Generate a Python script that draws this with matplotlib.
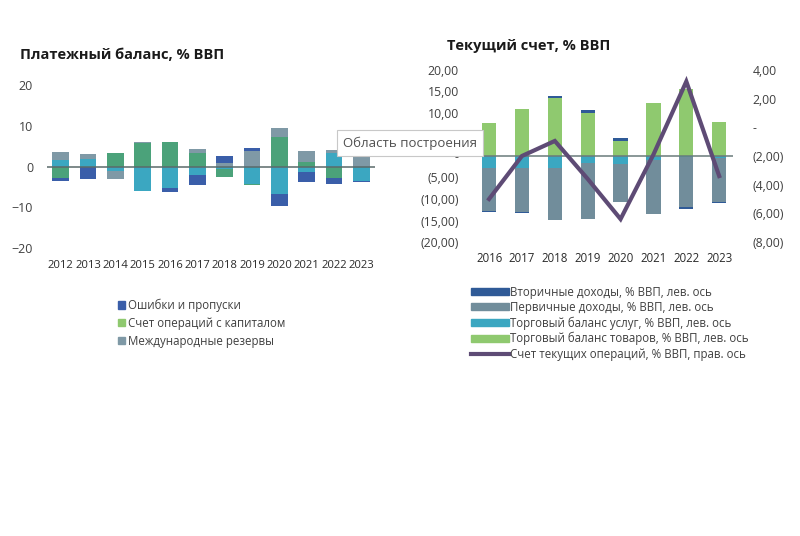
import numpy as np
import matplotlib
matplotlib.use("Agg")
import matplotlib.pyplot as plt
from matplotlib.patches import Patch
from matplotlib.lines import Line2D

plt.rcParams['font.family'] = ['Open Sans', 'DejaVu Sans']

# ---- left chart: balance of payments, % GDP ----
years_bp = ['2012', '2013', '2014', '2015', '2016', '2017',
            '2018', '2019', '2020', '2021', '2022', '2023']
current_acc = [1.7, 1.9, -1.0, -6.0, -5.25, -2.1, -0.7, -4.3, -6.7, -1.3, 3.3, -3.6]
financial_acc = [-2.8, 0.0, 3.2, 5.8, 6.1, 3.3, -1.8, -0.3, 7.3, 1.1, -2.8, 0.0]
capital_acc = [0.0, 0.0, 0.0, 0.0, 0.0, 0.0, 0.0, 0.0, 0.0, 0.0, 0.0, 0.0]
reserves = [1.8, 1.1, -2.1, 0.2, 0.0, 1.1, 0.8, 3.9, 2.2, 2.8, 0.8, 3.0]
errors = [-0.7, -3.0, 0.0, 0.0, -1.0, -2.4, 1.7, 0.6, -3.0, -2.6, -1.4, -0.2]

# ---- right chart: current account, % GDP ----
years_ca = ['2016', '2017', '2018', '2019', '2020', '2021', '2022', '2023']
services = [-2.7, -2.7, -2.9, -1.6, -1.8, -1.0, -0.3, -0.4]
goods = [7.6, 10.9, 13.4, 10.1, 3.5, 12.3, 15.5, 7.8]
primary_inc = [-10.05, -10.35, -12.06, -13.1, -8.9, -12.4, -11.65, -10.35]
secondary_inc = [-0.25, -0.2, 0.5, 0.6, 0.7, -0.2, -0.3, -0.25]
ca_total = [-5.0, -2.0, -0.95, -3.6, -6.4, -1.9, 3.2, -3.4]

# the "5,00" label sits under the tooltip in the original, so it is left blank
left_ticks = [20, 15, 10, 5, 0, -5, -10, -15, -20]
left_labels = ['20,00', '15,00', '10,00', '', '-', '(5,00)', '(10,00)', '(15,00)', '(20,00)']
right_ticks = [4, 2, 0, -2, -4, -6, -8]
right_labels = ['4,00', '2,00', '-', '(2,00)', '(4,00)', '(6,00)', '(8,00)']

c_teal = '#3ba7c1'
c_green = '#4ba27a'
c_gray = '#7f99a6'
c_blue = '#3a5ea9'
c_lgreen = '#8fc96f'
c_gray2 = '#718d9b'
c_blue2 = '#2f5a97'
c_line = '#5e4b75'
txt = '#404040'

W, H = 800, 536
fig = plt.figure(figsize=(8, 5.36), dpi=100)


def stack(ax, x, series, colors, width):
    pos = np.zeros(len(x))
    neg = np.zeros(len(x))
    for vals, col in zip(series, colors):
        v = np.array(vals, dtype=float)
        bottom = np.where(v >= 0, pos, neg)
        ax.bar(x, v, width, bottom=bottom, color=col, zorder=2)
        pos = pos + np.where(v >= 0, v, 0)
        neg = neg + np.where(v < 0, v, 0)


# left axes
ax1 = fig.add_axes([47 / W, 1 - 248 / H, 328 / W, 163 / H])
x1 = np.arange(len(years_bp))
stack(ax1, x1, [current_acc, financial_acc, capital_acc, reserves, errors],
      [c_teal, c_green, c_lgreen, c_gray, c_blue], 0.6)
ax1.axhline(0, color='#5a6a6a', lw=1.1, zorder=3)
ax1.set_xlim(-0.5, len(years_bp) - 0.5)
ax1.set_ylim(-20, 20)
ax1.set_yticks([20, 10, 0, -10, -20])
ax1.set_xticks(x1)
ax1.set_xticklabels(years_bp, fontsize=8.1, color='#2a2a2a')
ax1.tick_params(axis='y', labelsize=9, colors=txt, length=0, pad=10)
ax1.tick_params(axis='x', length=0, pad=9)
for s in ax1.spines.values():
    s.set_visible(False)
ax1.patch.set_alpha(0)
fig.text(20 / W, 1 - 55 / H, 'Платежный баланс, % ВВП', fontsize=10.5,
         fontweight='bold', color='#1a1a1a', va='center')

fig.legend(handles=[Patch(color=c_blue, label='Ошибки и пропуски'),
                    Patch(color=c_lgreen, label='Счет операций с капиталом'),
                    Patch(color=c_gray, label='Международные резервы')],
           loc='upper left', bbox_to_anchor=(113 / W, 1 - 294 / H), frameon=False,
           fontsize=8.3, handlelength=0.6, handleheight=0.6, handletextpad=0.3,
           labelspacing=0.42, labelcolor=txt, borderaxespad=0)

# right axes
ax2 = fig.add_axes([470 / W, 1 - 242 / H, 263 / W, 172 / H])
x2 = np.arange(len(years_ca))
stack(ax2, x2, [services, goods, primary_inc, secondary_inc],
      [c_teal, c_lgreen, c_gray2, c_blue2], 0.43)
ax2.axhline(0, color='#6a7a7a', lw=1.1, zorder=3)
ax2.set_xlim(-0.58, len(years_ca) - 0.58)
ax2.set_ylim(-20, 20)
ax2.set_yticks(left_ticks)
ax2.set_yticklabels(left_labels)
ax2.set_xticks(x2)
ax2.set_xticklabels(years_ca, fontsize=8.3, color='#2a2a2a')
ax2.tick_params(axis='y', labelsize=8.8, colors=txt, length=0, pad=8)
ax2.tick_params(axis='x', length=0, pad=7)
for s in ax2.spines.values():
    s.set_visible(False)
ax2.patch.set_alpha(0)

ax3 = ax2.twinx()
ax3.plot(x2, ca_total, color=c_line, lw=3, zorder=4, solid_joinstyle='miter')
ax3.set_ylim(-8, 4)
ax3.set_yticks(right_ticks)
ax3.set_yticklabels(right_labels)
ax3.tick_params(axis='y', labelsize=8.8, colors=txt, length=0, pad=14)
for s in ax3.spines.values():
    s.set_visible(False)

fig.text(447 / W, 1 - 46 / H, 'Текущий счет, % ВВП', fontsize=10.5,
         fontweight='bold', color='#1a1a1a', va='center')

fig.legend(handles=[Patch(color=c_blue2, label='Вторичные доходы, % ВВП, лев. ось'),
                    Patch(color=c_gray2, label='Первичные доходы, % ВВП, лев. ось'),
                    Patch(color=c_teal, label='Торговый баланс услуг, % ВВП, лев. ось'),
                    Patch(color=c_lgreen, label='Торговый баланс товаров, % ВВП, лев. ось'),
                    Line2D([], [], color=c_line, lw=3,
                           label='Счет текущих операций, % ВВП, прав. ось')],
           loc='upper left', bbox_to_anchor=(466 / W, 1 - 281 / H), frameon=False,
           fontsize=8.3, handlelength=3.3, handleheight=0.55, handletextpad=0.15,
           labelspacing=0.2, labelcolor=txt, borderaxespad=0)

# Excel hover tooltip over the gap between charts
fig.text(343 / W, 1 - 143 / H, 'Область построения', fontsize=9.5, color='#505050',
         va='center', zorder=10,
         bbox=dict(boxstyle='square,pad=0.45', fc='white', ec='#c8c8c8', lw=0.8))

fig.savefig('out.png', dpi=100)
